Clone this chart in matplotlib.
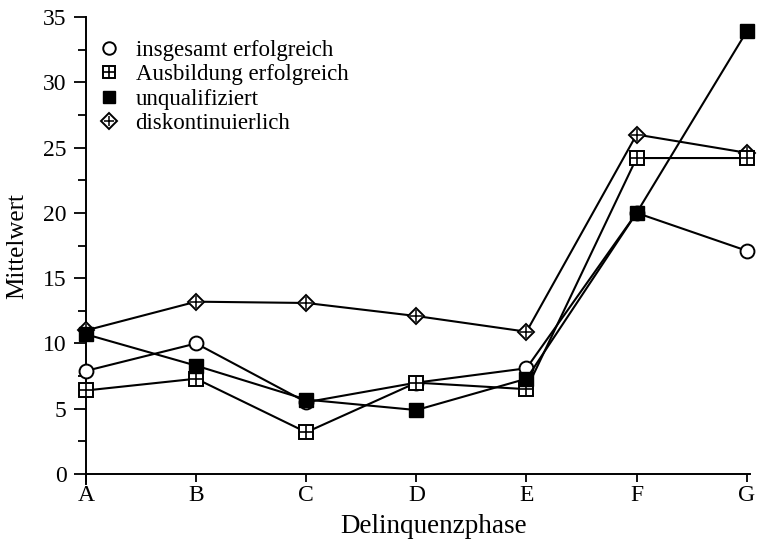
import matplotlib
matplotlib.use("Agg")
import matplotlib.pyplot as plt
from matplotlib.lines import Line2D
from matplotlib.legend_handler import HandlerTuple
from matplotlib.ticker import MultipleLocator

plt.rcParams['font.family'] = ['Liberation Serif', 'DejaVu Serif']

# values
phases = ['A', 'B', 'C', 'D', 'E', 'F', 'G']
insgesamt = [7.9, 10.0, 5.5, 7.0, 8.1, 20.0, 17.1]
ausbildung = [6.4, 7.3, 3.2, 7.0, 6.5, 24.2, 24.2]
unqualifiziert = [10.7, 8.3, 5.7, 4.9, 7.3, 20.0, 33.9]
diskontinuierlich = [11.0, 13.2, 13.1, 12.1, 10.9, 26.0, 24.6]

labels = ['insgesamt erfolgreich', 'Ausbildung erfolgreich',
          'unqualifiziert', 'diskontinuierlich']

fig = plt.figure(figsize=(7.62, 5.40), dpi=100)
ax = fig.add_axes([0.1129, 0.1028, 0.8714, 0.8657])

x = list(range(len(phases)))
lw = 1.5

# marker styles
open_circle = dict(marker='o', ms=10, mfc='white', mec='black', mew=1.4)
open_square = dict(marker='s', ms=10, mfc='white', mec='black', mew=1.4)
full_square = dict(marker='s', ms=10, mfc='black', mec='black', mew=1.0)
open_diamond = dict(marker='D', ms=8.5, mfc='white', mec='black', mew=1.4)
plus_sq = dict(marker='+', ms=10, mec='black', mew=1.2)
plus_di = dict(marker='+', ms=8.5, mec='black', mew=1.1)

ax.plot(x, insgesamt, '-', color='black', lw=lw, zorder=3, clip_on=False,
        **open_circle)
ax.plot(x, ausbildung, '-', color='black', lw=lw, zorder=4, clip_on=False,
        **open_square)
ax.plot(x, ausbildung, ls='none', zorder=4, clip_on=False, **plus_sq)
ax.plot(x, unqualifiziert, '-', color='black', lw=lw, zorder=5, clip_on=False,
        **full_square)
ax.plot(x, diskontinuierlich, '-', color='black', lw=lw, zorder=3,
        clip_on=False, **open_diamond)
ax.plot(x, diskontinuierlich, ls='none', zorder=3, clip_on=False, **plus_di)

ax.set_xlim(0, 6.03)
ax.set_ylim(-0.8, 35)
ax.spines['top'].set_visible(False)
ax.spines['right'].set_visible(False)
ax.spines['bottom'].set_position(('data', 0))
ax.spines['left'].set_linewidth(1.4)
ax.spines['bottom'].set_linewidth(1.4)

ax.set_xticks(x)
ax.set_xticklabels(phases)
ax.yaxis.set_major_locator(MultipleLocator(5))
ax.yaxis.set_minor_locator(MultipleLocator(2.5))
ax.tick_params(axis='both', which='major', direction='out', length=9,
               width=1.3, labelsize=17)
ax.tick_params(axis='y', which='minor', direction='out', length=6, width=1.3)
ax.tick_params(axis='x', length=6, pad=2)
ax.tick_params(axis='y', pad=5)

ax.set_xlabel('Delinquenzphase', fontsize=19.5)
ax.xaxis.set_label_coords(0.524, -0.064)
ax.set_ylabel('Mittelwert', fontsize=18)
ax.yaxis.set_label_coords(-0.087, 0.51)

# legend shows markers only
def proxy(style):
    return Line2D([], [], ls='none', **style)

handles = [proxy(open_circle),
           (proxy(open_square), proxy(plus_sq)),
           proxy(full_square),
           (proxy(open_diamond), proxy(plus_di))]

ax.legend(handles, labels,
          handler_map={tuple: HandlerTuple(ndivide=1)},
          loc='upper left', bbox_to_anchor=(0.128, 0.926),
          bbox_transform=fig.transFigure, frameon=False, fontsize=16.5,
          handlelength=1.0, handletextpad=0.66, labelspacing=0.15,
          borderpad=0, borderaxespad=0, markerscale=0.9)

fig.savefig('out.png', dpi=100)
